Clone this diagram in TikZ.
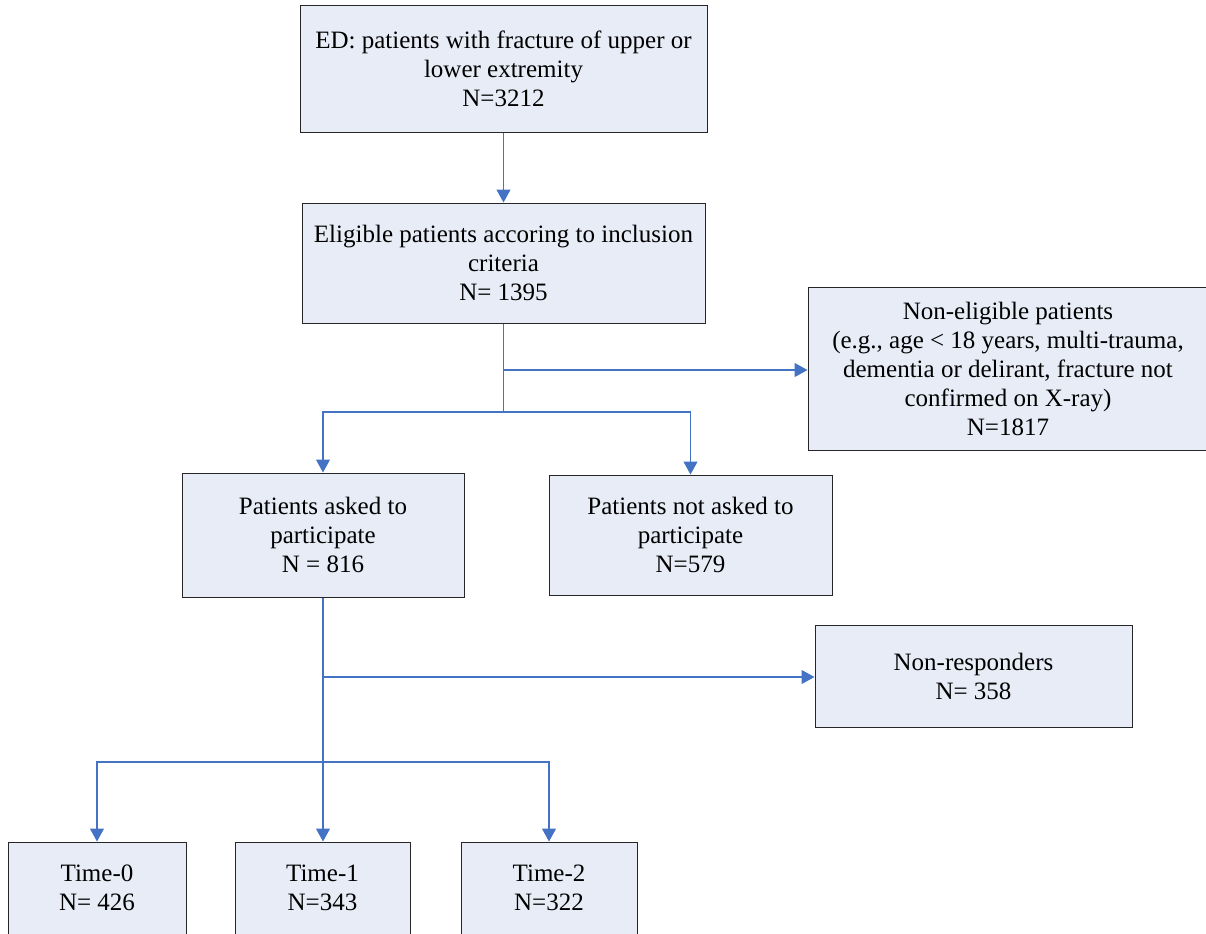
\documentclass[tikz,border=0pt]{standalone}
\usepackage{fontspec}
\setmainfont{Liberation Serif}
\usetikzlibrary{arrows.meta}
\definecolor{boxfill}{RGB}{231,236,246}
\definecolor{lineblue}{RGB}{68,114,196}
\begin{document}
\begin{tikzpicture}[x=0.5pt, y=-0.5pt, >={Triangle[length=6.5pt, width=7pt]}]

	\tikzstyle{box}=[rectangle, draw=black!85, line width=0.5pt, fill=boxfill, inner sep=0pt, align=center, font=\fontsize{12.5pt}{14.5pt}\selectfont]
	\tikzstyle{line}=[draw=lineblue, line width=0.55pt]
	\tikzstyle{arr}=[line, ->]
	\tikzstyle{trunk}=[line, line width=1pt]

	\useasboundingbox (0,0) rectangle (1206,933);
	\clip (0,0) rectangle (1206,933);

	% boxes
	\node at (503.5,68.5) (ed) [box, minimum width=203.5pt, minimum height=63.5pt] {ED: patients with fracture of upper or\\lower extremity\\N=3212};
	\node at (503.5,263) (elig) [box, minimum width=201.5pt, minimum height=60pt] {Eligible patients accoring to inclusion\\criteria\\N= 1395};
	\node at (1008,368.5) (nonelig) [box, minimum width=200pt, minimum height=81.5pt] {Non-eligible patients\\(e.g., age < 18 years, multi-trauma,\\dementia or delirant, fracture not\\confirmed on X-ray)\\N=1817};
	\node at (323,535) (asked) [box, minimum width=141pt, minimum height=62pt] {Patients asked to\\participate\\N = 816};
	\node at (690.5,535) (notasked) [box, minimum width=141.5pt, minimum height=60pt] {Patients not asked to\\participate\\N=579};
	\node at (973.5,676) (nonresp) [box, minimum width=158.5pt, minimum height=51pt] {Non-responders\\N= 358};
	\node at (97,888) (time0) [box, minimum width=89pt, minimum height=46pt] {Time-0\\N= 426};
	\node at (322.5,888) (time1) [box, minimum width=87.5pt, minimum height=46pt] {Time-1\\N=343};
	\node at (549,888) (time2) [box, minimum width=88pt, minimum height=46pt] {Time-2\\N=322};

	% junctions
	\coordinate (split1) at (503.5,370);
	\coordinate (split2) at (503.5,412);
	\coordinate (split3) at (323,677);
	\coordinate (split4) at (323,762);

	% connectors
	\draw[arr] (ed) -- (elig);
	\draw[line] (elig) -- (split2);
	\draw[arr] (split1) -- (split1 -| nonelig.west);
	\draw[arr] (split2) -| (asked);
	\draw[arr] (split2) -| (notasked);
	\draw[trunk] (asked) -- (split4);
	\draw[arr] (split3) -- (split3 -| nonresp.west);
	\draw[arr] (split4) -| (time0);
	\draw[arr] (split4) -- (split4 |- time1.north);
	\draw[arr] (split4) -| (time2);
\end{tikzpicture}
\end{document}
